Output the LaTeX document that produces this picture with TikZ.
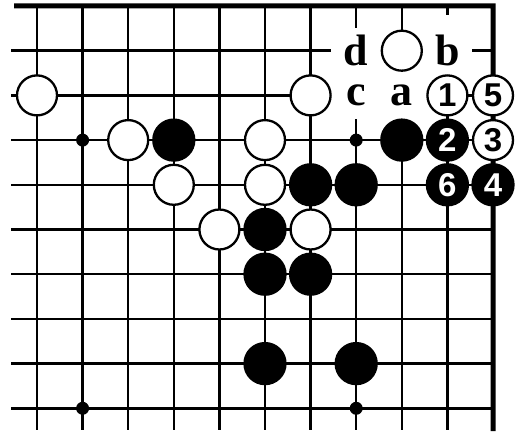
\documentclass[tikz,border=0pt]{standalone}
\usepackage{fontspec}
\newfontfamily\numfont{Liberation Sans}
\newfontfamily\lblfont{Liberation Serif}
\begin{document}
\begin{tikzpicture}[x=1pt,y=-1pt,
  gridline/.style={line width=2.4pt},
  edgeline/.style={line width=5pt,line join=miter},
  eraser/.style={fill=white},
  wstone/.style={circle,draw=black,fill=white,line width=2.3pt,minimum size=40pt,inner sep=0pt,
    font=\numfont\bfseries\fontsize{33}{33}\selectfont,text=black},
  bstone/.style={circle,draw=black,fill=black,line width=2.3pt,minimum size=41pt,inner sep=0pt,
    font=\numfont\bfseries\fontsize{33}{33}\selectfont,text=white},
  hoshi/.style={circle,fill=black,minimum size=13pt,inner sep=0pt},
  lbl/.style={inner sep=0pt,font=\lblfont\bfseries\fontsize{44}{44}\selectfont}]
\useasboundingbox (0,0) rectangle (517,438);
\fill[white] (0,0) rectangle (517,438);
% grid points
\foreach \i in {0,...,10}{
  \foreach \j in {0,...,9}{
    \coordinate (p\i-\j) at ({37+45.6*\i},{6+44.7*\j});
  }
}
% grid lines
\foreach \j in {1,...,9}{
  \coordinate (l\j) at (11,{6+44.7*\j});
  \draw[gridline] (l\j) -- (p10-\j);
}
\foreach \i in {0,...,9}{
  \coordinate (b\i) at ({37+45.6*\i},430);
  \draw[gridline] (p\i-0) -- (b\i);
}
\coordinate (tl) at (14,6);
\coordinate (br) at (493,431);
\draw[edgeline] (tl) -- (p10-0) -- (br);
% gaps in the lines round the letters
\fill[eraser] (352,28) rectangle (360.5,119);
\fill[eraser] (397.5,70) rectangle (406,122);
\fill[eraser] (443,15) rectangle (452,80);
\fill[eraser] (331,46.5) rectangle (472,55);
\fill[eraser] (330,91) rectangle (427,100);
% star points
\node[hoshi] (h13) at (p1-3) {};
\node[hoshi] (h73) at (p7-3) {};
\node[hoshi] (h19) at (p1-9) {};
\node[hoshi] (h79) at (p7-9) {};
% letter labels
\node[lbl] (ld) at (p7-1) {d};
\node[lbl] (lb) at (p9-1) {b};
\node[lbl] (lc) at (p7-2) {c};
\node[lbl] (la) at (p8-2) {a};
% white stones
\node[wstone] (w02) at (p0-2) {};
\node[wstone] (w23) at (p2-3) {};
\node[wstone] (w34) at (p3-4) {};
\node[wstone] (w53) at (p5-3) {};
\node[wstone] (w54) at (p5-4) {};
\node[wstone] (w45) at (p4-5) {};
\node[wstone] (w65) at (p6-5) {};
\node[wstone] (w62) at (p6-2) {};
\node[wstone] (w81) at (p8-1) {};
\node[wstone] (m1) at (p9-2) {1};
\node[wstone] (m5) at (p10-2) {5};
\node[wstone] (m3) at (p10-3) {3};
% black stones
\node[bstone] (k33) at (p3-3) {};
\node[bstone] (k55) at (p5-5) {};
\node[bstone] (k56) at (p5-6) {};
\node[bstone] (k66) at (p6-6) {};
\node[bstone] (k58) at (p5-8) {};
\node[bstone] (k78) at (p7-8) {};
\node[bstone] (k64) at (p6-4) {};
\node[bstone] (k74) at (p7-4) {};
\node[bstone] (k83) at (p8-3) {};
\node[bstone] (m2) at (p9-3) {2};
\node[bstone] (m6) at (p9-4) {6};
\node[bstone] (m4) at (p10-4) {4};
\end{tikzpicture}
\end{document}
